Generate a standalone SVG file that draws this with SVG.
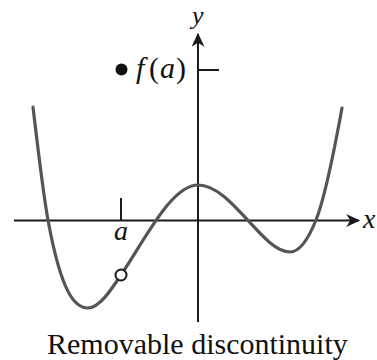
<svg xmlns="http://www.w3.org/2000/svg" width="377" height="360" viewBox="0 0 377 360">
<style>
.axis{stroke:#1a1a1a;stroke-width:2;fill:none}
.curve{stroke:#555;stroke-width:3.2;fill:none;stroke-linecap:round}
.tick{stroke:#1a1a1a;stroke-width:2}
.lbl{font-family:"Liberation Serif","Times New Roman",serif;font-style:italic;fill:#111}
.up{font-style:normal}
.cap{font-family:"Liberation Serif","Times New Roman",serif;font-size:30px;fill:#111}
</style>
<defs>
<marker id="arr" markerUnits="userSpaceOnUse" markerWidth="14" markerHeight="14" viewBox="0 0 12 12" refX="11" refY="6" orient="auto">
<path d="M0,0.5 L12,6 L0,11.5 L3.5,6 Z" fill="#1a1a1a"/>
</marker>
</defs>
<g id="connectors">
<line id="x-axis" class="axis" x1="14" y1="220.5" x2="359" y2="220.5" marker-end="url(#arr)"/>
<line id="y-axis" class="axis" x1="198" y1="322" x2="198" y2="34" marker-end="url(#arr)"/>
<line id="fa-tick" class="tick" x1="198" y1="70" x2="219" y2="70"/>
<line id="a-tick" class="tick" x1="121" y1="198" x2="121" y2="220"/>
<path id="curve" class="curve" d="M33,107 C38,149.5 43,192.5 48,220 C61.3,293 74.7,308 88,308 C99,308 110,291.5 121,275 C146.7,236.5 172,185 198,185 C232,185 262,252 290,252 C298.7,252 307.3,241.7 316,220 C324.7,198.3 333.3,155.7 342,108"/>
</g>
<g id="hole"><circle cx="121" cy="275" r="5.5" fill="#fff" stroke="#1a1a1a" stroke-width="2"/></g>
<g id="point-fa"><circle cx="121.5" cy="69.5" r="6" fill="#111"/></g>
<g id="labels">
<text class="lbl" x="192" y="24" font-size="26">y</text>
<text class="lbl" x="363" y="228" font-size="28">x</text>
<text class="lbl" x="114" y="240" font-size="28">a</text>
<text class="lbl" font-size="30" y="78"><tspan x="136">f</tspan><tspan class="up" x="149">(</tspan><tspan x="160">a</tspan><tspan class="up" x="176">)</tspan></text>
<text class="cap" x="47" y="354">Removable discontinuity</text>
</g>
</svg>
